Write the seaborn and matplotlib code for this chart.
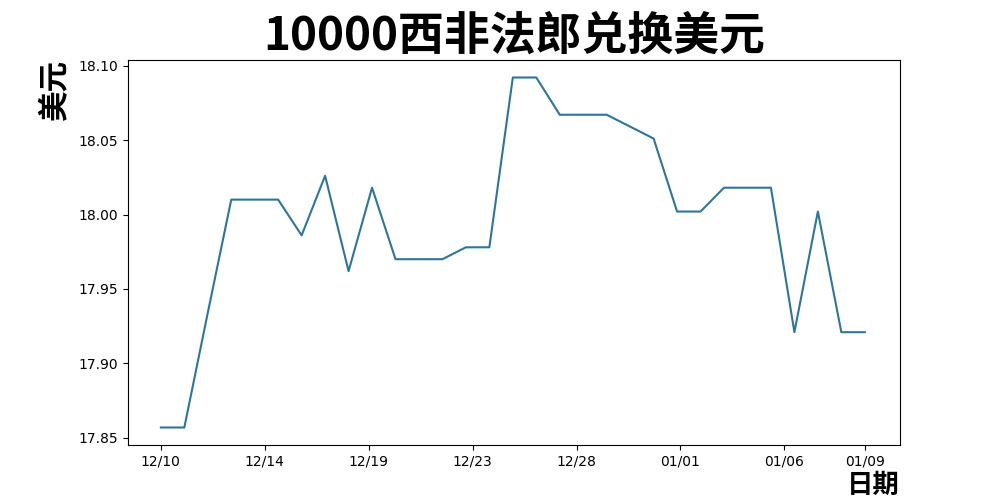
import numpy as np
import pandas as pd
import matplotlib
matplotlib.use("Agg")
import matplotlib.pyplot as plt
import seaborn as sns

# daily rate, 12/10 -> 01/09
dates = pd.date_range("2023-12-10", "2024-01-09", freq="D")
values = [17.857, 17.857, 17.934, 18.010, 18.010, 18.010, 17.986, 18.026,
          17.962, 18.018, 17.970, 17.970, 17.970, 17.978, 17.978, 18.092,
          18.092, 18.067, 18.067, 18.067, 18.059, 18.051, 18.002, 18.002,
          18.018, 18.018, 18.018, 17.921, 18.002, 17.921, 17.921]
tick_labels = ["12/10", "12/14", "12/19", "12/23", "12/28", "01/01", "01/06", "01/09"]

df = pd.DataFrame({"idx": np.arange(len(values)), "rate": values})

plt.rcParams["font.family"] = ["Noto Sans CJK SC", "DejaVu Sans"]

fig = plt.figure(figsize=(10, 5), dpi=100)
ax = fig.add_axes([0.128, 0.11, 0.772, 0.77])
sns.lineplot(data=df, x="idx", y="rate", ax=ax, color="#2a76a0", linewidth=1.5)

#ticks spread evenly, last one on final day
n = len(values)
tick_pos = [i * n / 7 for i in range(7)] + [n - 1]
ax.set_xticks(tick_pos)
ax.set_xticklabels(tick_labels, family="DejaVu Sans", fontsize=10)
ax.set_yticks([17.85, 17.90, 17.95, 18.00, 18.05, 18.10])
ax.set_yticklabels(["17.85", "17.90", "17.95", "18.00", "18.05", "18.10"],
                   family="DejaVu Sans", fontsize=10)
ax.set_xlim(-1.4, 31.5)

ax.set_title("10000西非法郎兑换美元", fontsize=33, fontweight="heavy", pad=2)
ax.set_ylabel("美元", fontsize=22, fontweight="bold", loc="top", labelpad=6)
ax.set_xlabel("日期", fontsize=19, fontweight="bold", loc="right", labelpad=2)

fig.savefig("out.png", dpi=100)
